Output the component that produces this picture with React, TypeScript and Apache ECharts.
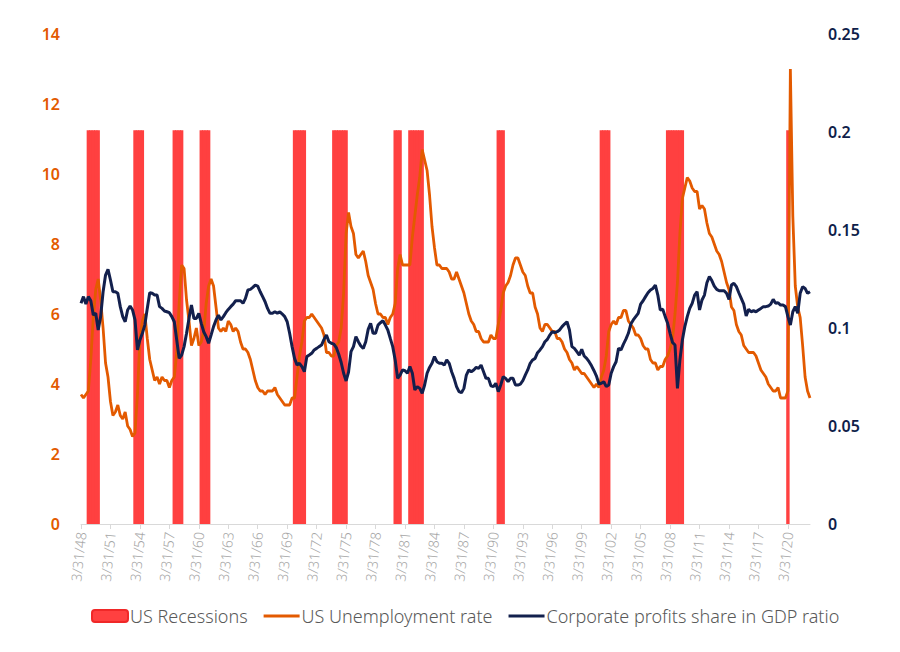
import React, { useEffect, useRef } from "react";
import * as echarts from "echarts";

// Quarterly series, 1948 Q1 .. 2022 Q2
const START_YEAR = 1948;
const QUARTER_ENDS = ["3/31", "6/30", "9/30", "12/31"];

const unemploymentRate = [
  3.7, 3.6, 3.7, 3.8, 4.7, 5.9, 6.7, 7.0, 6.4, 5.6, 4.6, 4.2, 3.5, 3.1, 3.2, 3.4,
  3.1, 3.0, 3.2, 2.8, 2.7, 2.5, 2.6, 3.7, 5.3, 5.8, 6.0, 5.3, 4.7, 4.4, 4.1, 4.2,
  4.0, 4.2, 4.1, 4.1, 3.9, 4.1, 4.2, 4.9, 6.3, 7.4, 7.3, 6.4, 5.8, 5.1, 5.3, 5.6,
  5.1, 5.2, 5.5, 6.3, 6.8, 7.0, 6.8, 6.2, 5.6, 5.5, 5.6, 5.5, 5.8, 5.7, 5.5, 5.6,
  5.5, 5.2, 5.0, 5.0, 4.9, 4.7, 4.4, 4.1, 3.9, 3.8, 3.8, 3.7, 3.8, 3.8, 3.8, 3.9,
  3.7, 3.6, 3.5, 3.4, 3.4, 3.4, 3.6, 3.6, 4.2, 4.8, 5.2, 5.8, 5.9, 5.9, 6.0, 5.9,
  5.8, 5.7, 5.6, 5.4, 4.9, 4.9, 4.8, 4.8, 5.1, 5.2, 5.6, 6.6, 8.3, 8.9, 8.5, 8.3,
  7.7, 7.6, 7.7, 7.8, 7.5, 7.1, 6.9, 6.7, 6.3, 6.0, 6.0, 5.9, 5.9, 5.7, 5.9, 6.0,
  6.3, 7.3, 7.7, 7.4, 7.4, 7.4, 7.4, 8.2, 8.8, 9.4, 9.9, 10.7, 10.4, 10.1, 9.4, 8.5,
  7.9, 7.4, 7.4, 7.3, 7.3, 7.3, 7.2, 7.0, 7.0, 7.2, 7.0, 6.8, 6.6, 6.3, 6.0, 5.8,
  5.7, 5.5, 5.5, 5.3, 5.2, 5.2, 5.2, 5.4, 5.3, 5.3, 5.7, 6.1, 6.6, 6.8, 6.9, 7.1,
  7.4, 7.6, 7.6, 7.4, 7.2, 7.1, 6.8, 6.6, 6.6, 6.2, 6.0, 5.6, 5.5, 5.7, 5.7, 5.6,
  5.5, 5.5, 5.3, 5.3, 5.2, 5.0, 4.9, 4.7, 4.6, 4.4, 4.5, 4.4, 4.3, 4.3, 4.2, 4.1,
  4.0, 3.9, 4.0, 3.9, 4.2, 4.4, 4.8, 5.5, 5.7, 5.8, 5.7, 5.9, 5.9, 6.1, 6.1, 5.8,
  5.7, 5.6, 5.4, 5.4, 5.3, 5.1, 5.0, 5.0, 4.7, 4.6, 4.6, 4.4, 4.5, 4.5, 4.7, 4.8,
  5.0, 5.3, 6.0, 6.9, 8.3, 9.3, 9.6, 9.9, 9.8, 9.6, 9.5, 9.5, 9.0, 9.1, 9.0, 8.6,
  8.3, 8.2, 8.0, 7.8, 7.7, 7.5, 7.2, 6.9, 6.7, 6.2, 6.1, 5.7, 5.5, 5.4, 5.1, 5.0,
  4.9, 4.9, 4.9, 4.8, 4.6, 4.4, 4.3, 4.2, 4.0, 3.9, 3.8, 3.8, 3.9, 3.6, 3.6, 3.6,
  3.8, 13.0, 8.8, 6.8, 6.2, 5.9, 5.1, 4.2, 3.8, 3.6,
];

const profitsShareGdp = [
  0.1126, 0.1160, 0.1122, 0.1160, 0.1139, 0.1066, 0.1075, 0.0990, 0.1058, 0.1185,
  0.1270, 0.1299, 0.1245, 0.1185, 0.1185, 0.1177, 0.1109, 0.1058, 0.1032, 0.1092,
  0.1112, 0.1092, 0.1041, 0.0888, 0.0939, 0.0973, 0.1015, 0.1100, 0.1180, 0.1177,
  0.1168, 0.1168, 0.1109, 0.1100, 0.1087, 0.1083, 0.1078, 0.1058, 0.1032, 0.0939,
  0.0845, 0.0862, 0.0905, 0.0973, 0.1049, 0.1117, 0.1049, 0.1049, 0.1075, 0.1024,
  0.0981, 0.0956, 0.0922, 0.0964, 0.1007, 0.1041, 0.1066, 0.1041, 0.1058, 0.1078,
  0.1095, 0.1109, 0.1122, 0.1139, 0.1139, 0.1139, 0.1126, 0.1151, 0.1194, 0.1197,
  0.1207, 0.1219, 0.1214, 0.1185, 0.1160, 0.1134, 0.1100, 0.1075, 0.1075, 0.1083,
  0.1075, 0.1083, 0.1071, 0.1058, 0.1032, 0.0973, 0.0905, 0.0845, 0.0811, 0.0820,
  0.0803, 0.0777, 0.0854, 0.0862, 0.0871, 0.0888, 0.0896, 0.0905, 0.0913, 0.0942,
  0.0964, 0.0930, 0.0922, 0.0918, 0.0900, 0.0866, 0.0824, 0.0769, 0.0730, 0.0775,
  0.0879, 0.0905, 0.0956, 0.0930, 0.0908, 0.0896, 0.0930, 0.0993, 0.1024, 0.0973,
  0.0973, 0.1015, 0.1027, 0.1037, 0.1015, 0.0990, 0.0947, 0.0905, 0.0837, 0.0743,
  0.0760, 0.0786, 0.0782, 0.0769, 0.0803, 0.0769, 0.0684, 0.0701, 0.0692, 0.0667,
  0.0709, 0.0769, 0.0799, 0.0820, 0.0854, 0.0828, 0.0820, 0.0820, 0.0811, 0.0837,
  0.0820, 0.0777, 0.0743, 0.0701, 0.0675, 0.0670, 0.0692, 0.0760, 0.0786, 0.0777,
  0.0786, 0.0799, 0.0794, 0.0811, 0.0777, 0.0743, 0.0743, 0.0705, 0.0701, 0.0718,
  0.0675, 0.0709, 0.0752, 0.0743, 0.0726, 0.0743, 0.0743, 0.0709, 0.0709, 0.0714,
  0.0731, 0.0760, 0.0786, 0.0820, 0.0837, 0.0845, 0.0874, 0.0888, 0.0905, 0.0930,
  0.0942, 0.0964, 0.0981, 0.0976, 0.0981, 0.0990, 0.1007, 0.1020, 0.1032, 0.0990,
  0.0905, 0.0896, 0.0879, 0.0862, 0.0891, 0.0857, 0.0845, 0.0828, 0.0807, 0.0782,
  0.0755, 0.0714, 0.0718, 0.0726, 0.0701, 0.0709, 0.0769, 0.0803, 0.0828, 0.0896,
  0.0888, 0.0918, 0.0943, 0.0973, 0.1020, 0.1041, 0.1058, 0.1075, 0.1122, 0.1139,
  0.1160, 0.1180, 0.1194, 0.1202, 0.1219, 0.1168, 0.1092, 0.1096, 0.1058, 0.1024,
  0.0973, 0.0926, 0.0913, 0.0692, 0.0837, 0.0939, 0.1007, 0.1058, 0.1100, 0.1126,
  0.1168, 0.1185, 0.1092, 0.1143, 0.1168, 0.1231, 0.1262, 0.1242, 0.1214, 0.1197,
  0.1190, 0.1190, 0.1190, 0.1177, 0.1146, 0.1219, 0.1228, 0.1211, 0.1180, 0.1151,
  0.1122, 0.1061, 0.1095, 0.1083, 0.1088, 0.1083, 0.1092, 0.1100, 0.1109, 0.1109,
  0.1112, 0.1122, 0.1146, 0.1126, 0.1129, 0.1117, 0.1117, 0.1109, 0.1058, 0.1015,
  0.1083, 0.1109, 0.1075, 0.1177, 0.1211, 0.1202, 0.1177, 0.1185,
];

// Recession periods (first quarter, last quarter)
const recessionPeriods: [string, string][] = [
  ["1948Q4", "1949Q4"],
  ["1953Q3", "1954Q2"],
  ["1957Q3", "1958Q2"],
  ["1960Q2", "1961Q1"],
  ["1969Q4", "1970Q4"],
  ["1973Q4", "1975Q1"],
  ["1980Q1", "1980Q3"],
  ["1981Q3", "1982Q4"],
  ["1990Q3", "1991Q1"],
  ["2001Q1", "2001Q4"],
  ["2007Q4", "2009Q2"],
  ["2020Q1", "2020Q1"],
];
const RECESSION_BAR_HEIGHT = 11.25; // on the left axis

const LEFT_AXIS = { min: 0, max: 14, interval: 2 };
const RIGHT_AXIS = { min: 0, max: 0.25, interval: 0.05 };

const SERIES_NAMES = [
  "US Recessions",
  "US Unemployment rate",
  "Corporate profits share in GDP ratio",
];

const RED = "#FF4040";
const ORANGE = "#E35A00";
const NAVY = "#13204D";

const quarterKey = (i: number) =>
  `${START_YEAR + Math.floor(i / 4)}Q${(i % 4) + 1}`;
const toNum = (k: string) => {
  const y = parseInt(k.slice(0, 4), 10);
  const q = parseInt(k.slice(5), 10);
  return y * 4 + q - 1;
};

export default function App() {
  const ref = useRef<HTMLDivElement>(null);

  useEffect(() => {
    if (!ref.current) return;
    const chart = echarts.init(ref.current, undefined, { renderer: "svg" });
    const n = unemploymentRate.length;
    const categories: string[] = [];
    const recessionData: (number | null)[] = [];
    for (let i = 0; i < n; i++) {
      const year = START_YEAR + Math.floor(i / 4);
      categories.push(
        `${QUARTER_ENDS[i % 4]}/${String(year % 100).padStart(2, "0")}`
      );
      const k = toNum(quarterKey(i));
      const inRec = recessionPeriods.some(
        ([a, b]) => k >= toNum(a) && k <= toNum(b)
      );
      recessionData.push(inRec ? RECESSION_BAR_HEIGHT : null);
    }

    const font = "'Noto Sans', sans-serif";
    const lineIcon = "path://M0,0 L36,0 L36,3 L0,3 Z";
    chart.setOption({
      animation: false,
      grid: { left: 81, right: 90, top: 34, bottom: 128 },
      legend: {
        data: [
          {
            name: SERIES_NAMES[0],
            icon: "roundRect",
            itemStyle: { color: RED, borderColor: "#F02828", borderWidth: 2 },
          },
          { name: SERIES_NAMES[1], icon: lineIcon },
          { name: SERIES_NAMES[2], icon: lineIcon },
        ],
        left: 86,
        top: 602,
        itemWidth: 36,
        itemHeight: 12,
        itemGap: 16,
        textStyle: {
          fontFamily: font,
          fontSize: 18,
          fontWeight: 300,
          color: "#595959",
          padding: [0, 0, 0, -3],
        },
      },
      xAxis: {
        type: "category",
        data: categories,
        boundaryGap: false,
        axisLine: { lineStyle: { color: "#d9d9d9", width: 1 } },
        axisTick: {
          interval: 11,
          length: 5,
          lineStyle: { color: "#d9d9d9" },
        },
        axisLabel: {
          interval: 11,
          rotate: 84,
          margin: 8,
          color: "#a6a6a6",
          fontFamily: font,
          fontSize: 14,
          fontWeight: 300,
        },
        splitLine: { show: false },
      },
      yAxis: [
        {
          type: "value",
          ...LEFT_AXIS,
          position: "left",
          axisLine: { show: false },
          axisTick: { show: false },
          splitLine: { show: false },
          axisLabel: {
            margin: 21,
            color: ORANGE,
            fontFamily: font,
            fontSize: 16,
            fontWeight: 600,
          },
        },
        {
          type: "value",
          ...RIGHT_AXIS,
          position: "right",
          axisLine: { show: false },
          axisTick: { show: false },
          splitLine: { show: false },
          axisLabel: {
            margin: 18,
            color: "#0F1E4A",
            fontFamily: font,
            fontSize: 16,
            fontWeight: 600,
          },
        },
      ],
      series: [
        {
          name: SERIES_NAMES[0],
          type: "bar",
          yAxisIndex: 0,
          data: recessionData,
          barWidth: 3.4,
          itemStyle: { color: RED, borderRadius: 0 },
        },
        {
          name: SERIES_NAMES[1],
          type: "line",
          yAxisIndex: 0,
          data: unemploymentRate,
          symbol: "none",
          lineStyle: { color: ORANGE, width: 2.8 },
          itemStyle: { color: ORANGE },
        },
        {
          name: SERIES_NAMES[2],
          type: "line",
          yAxisIndex: 1,
          data: profitsShareGdp,
          symbol: "none",
          lineStyle: { color: NAVY, width: 3 },
          itemStyle: { color: NAVY },
        },
      ],
    });
    return () => chart.dispose();
  }, []);

  return (
    <div
      ref={ref}
      style={{ position: "absolute", left: 0, top: 0, width: 900, height: 652 }}
    />
  );
}
